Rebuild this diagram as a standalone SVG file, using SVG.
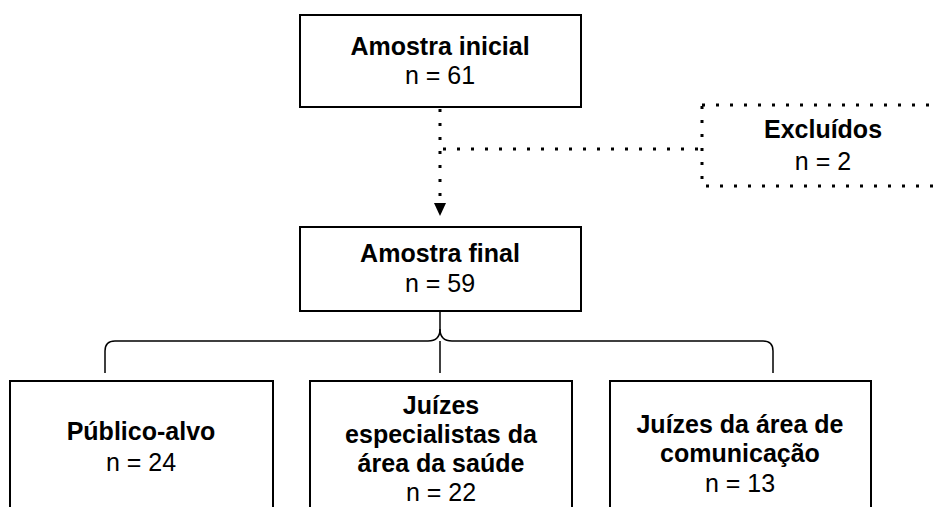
<svg xmlns="http://www.w3.org/2000/svg" width="940" height="507" viewBox="0 0 940 507">
<style>
.box{fill:#fff;stroke:#000;stroke-width:2}
.dot{fill:none;stroke:#000;stroke-width:3;stroke-dasharray:3 11}
.ln{fill:none;stroke:#000;stroke-width:1.5}
text{font-family:"Liberation Sans",Arial,sans-serif;font-size:25px;fill:#000;text-anchor:middle}
.b{font-weight:bold}
</style>
<rect width="940" height="507" fill="#fff"/>
<g id="connectors">
<path class="dot" d="M440,109 V203"/>
<polygon points="434,203 446,203 440,216" fill="#000"/>
<path class="dot" d="M443,149 H700"/>
<path class="ln" d="M105,373 V351 Q105,341 115,341 H428 Q440,341 440,329 V304"/>
<path class="ln" d="M440,329 Q440,341 452,341 H763 Q773,341 773,351 V373"/>
<path class="ln" d="M440,341 V373"/>
</g>
<g id="amostra-inicial">
<rect class="box" x="300" y="15" width="281" height="92"/>
<text class="b" x="440" y="55">Amostra inicial</text>
<text x="440" y="84">n = 61</text>
</g>
<g id="excluidos">
<rect class="dot" x="702" y="105" width="250" height="81"/>
<text class="b" x="823" y="138">Excluídos</text>
<text x="823" y="170">n = 2</text>
</g>
<g id="amostra-final">
<rect class="box" x="300" y="227" width="281" height="84"/>
<text class="b" x="440" y="262">Amostra final</text>
<text x="440" y="292">n = 59</text>
</g>
<g id="publico-alvo">
<rect class="box" x="10" y="381" width="263" height="140"/>
<text class="b" x="141" y="440">Público-alvo</text>
<text x="141" y="471">n = 24</text>
</g>
<g id="juizes-saude">
<rect class="box" x="310" y="381" width="262" height="140"/>
<text class="b" x="441" y="414">Juízes</text>
<text class="b" x="441" y="443">especialistas da</text>
<text class="b" x="441" y="472">área da saúde</text>
<text x="441" y="501">n = 22</text>
</g>
<g id="juizes-comunicacao">
<rect class="box" x="610" y="381" width="261" height="140"/>
<text class="b" x="740" y="433">Juízes da área de</text>
<text class="b" x="740" y="462">comunicação</text>
<text x="740" y="492">n = 13</text>
</g>
</svg>
